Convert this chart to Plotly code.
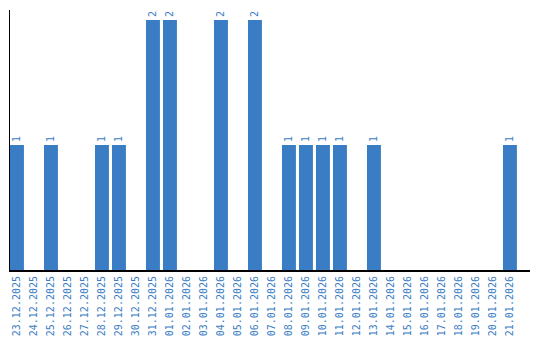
import plotly.graph_objects as go

dates = ["23.12.2025","24.12.2025","25.12.2025","26.12.2025","27.12.2025","28.12.2025",
         "29.12.2025","30.12.2025","31.12.2025","01.01.2026","02.01.2026","03.01.2026",
         "04.01.2026","05.01.2026","06.01.2026","07.01.2026","08.01.2026","09.01.2026",
         "10.01.2026","11.01.2026","12.01.2026","13.01.2026","14.01.2026","15.01.2026",
         "16.01.2026","17.01.2026","18.01.2026","19.01.2026","20.01.2026","21.01.2026"]
counts = [1,0,1,0,0,1,1,0,2,2,0,0,2,0,2,0,1,1,1,1,0,1,0,0,0,0,0,0,0,1]

labels = [str(c) if c > 0 else "" for c in counts]
blue = "#3a7dc4"

fig = go.Figure(go.Bar(
    x=list(range(len(dates))), y=counts, marker_color=blue, marker_line_width=0,
    text=labels, textposition="outside", textangle=-90, cliponaxis=False,
    textfont=dict(family="DejaVu Sans Mono", size=10, color=blue),
))
fig.update_layout(
    width=540, height=340, margin=dict(l=10, r=10, t=10, b=70),
    plot_bgcolor="white", paper_bgcolor="white", showlegend=False, bargap=0.18,
    xaxis=dict(tickmode="array", tickvals=list(range(len(dates))), ticktext=dates,
               tickangle=-90, range=[-0.41, 30.18], showgrid=False, zeroline=False,
               showline=True, linecolor="black", linewidth=2, ticks="", automargin=False,
               tickfont=dict(family="DejaVu Sans Mono", size=10, color=blue)),
    yaxis=dict(range=[0, 2.08], showgrid=False, zeroline=False, showticklabels=False,
               showline=True, linecolor="black", linewidth=1, ticks="", automargin=False),
)
fig.write_html("out.html")
